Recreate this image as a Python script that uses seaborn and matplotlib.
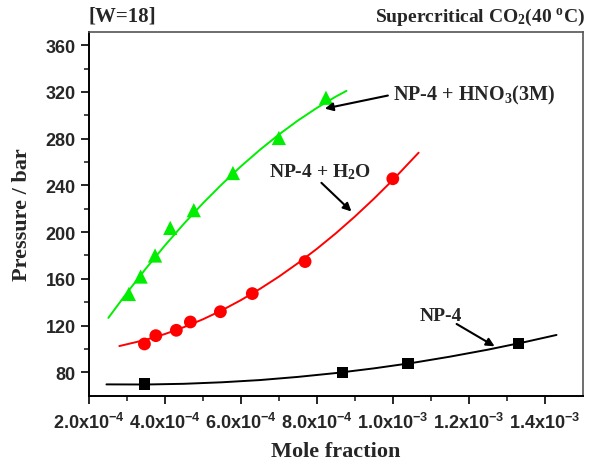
import numpy as np
import pandas as pd
import matplotlib
matplotlib.use("Agg")
import matplotlib.pyplot as plt
import seaborn as sns

# measured points
np4_x = [3.46e-4, 8.68e-4, 1.04e-3, 1.332e-3]
np4_y = [70.0, 80.0, 87.8, 104.5]
h2o_x = [3.46e-4, 3.76e-4, 4.30e-4, 4.67e-4, 5.46e-4, 6.30e-4, 7.69e-4, 1.0e-3]
h2o_y = [104.3, 111.4, 116.0, 123.1, 131.9, 147.4, 174.8, 245.7]
hno3_x = [3.05e-4, 3.36e-4, 3.74e-4, 4.14e-4, 4.76e-4, 5.79e-4, 7.0e-4, 8.24e-4]
hno3_y = [147.1, 162.0, 180.0, 203.6, 218.8, 250.6, 280.6, 315.0]

# fitted curves
np4_fit_x = [2.46e-4, 3.5e-4, 4.5e-4, 5.5e-4, 6.5e-4, 7.5e-4, 8.5e-4, 9.5e-4,
             1.05e-3, 1.15e-3, 1.25e-3, 1.35e-3, 1.431e-3]
np4_fit_y = [69.7, 69.6, 70.2, 71.5, 73.4, 76.1, 79.4, 83.4, 88.0, 93.4, 99.4, 106.1, 112.0]
h2o_fit_x = [2.8e-4, 3.5e-4, 4.0e-4, 4.5e-4, 5.0e-4, 5.5e-4, 6.0e-4, 6.5e-4, 7.0e-4,
             7.5e-4, 8.0e-4, 8.5e-4, 9.0e-4, 9.5e-4, 1.0e-3, 1.068e-3]
h2o_fit_y = [102.5, 107.9, 112.8, 118.7, 125.4, 133.1, 141.8, 151.4, 161.9,
             173.4, 185.7, 199.0, 213.3, 228.5, 244.6, 268.0]
hno3_fit_x = [2.51e-4, 3.0e-4, 3.5e-4, 4.0e-4, 4.5e-4, 5.0e-4, 5.5e-4, 6.0e-4,
              6.5e-4, 7.0e-4, 7.5e-4, 8.0e-4, 8.5e-4, 8.78e-4]
hno3_fit_y = [126.6, 148.1, 168.9, 188.6, 207.2, 224.7, 241.0, 256.3,
              270.4, 283.5, 295.5, 306.3, 316.0, 320.9]

x_ticks = [2e-4, 4e-4, 6e-4, 8e-4, 1.0e-3, 1.2e-3, 1.4e-3]
x_tick_labels = ["2.0x10$^{-4}$", "4.0x10$^{-4}$", "6.0x10$^{-4}$", "8.0x10$^{-4}$",
                 "1.0x10$^{-3}$", "1.2x10$^{-3}$", "1.4x10$^{-3}$"]
y_ticks = [80, 120, 160, 200, 240, 280, 320, 360]

sns.set_style("ticks")
plt.rcParams["font.family"] = ["Liberation Serif", "DejaVu Serif"]
plt.rcParams["font.weight"] = "bold"
plt.rcParams["mathtext.default"] = "regular"

fig = plt.figure(figsize=(5.92, 4.64), dpi=100)
ax = fig.add_axes([0.1503, 0.145, 0.834, 0.7832])

sns.lineplot(x=np4_fit_x, y=np4_fit_y, color="black", lw=1.4, sort=False, estimator=None, ax=ax)
sns.lineplot(x=h2o_fit_x, y=h2o_fit_y, color="#ff0000", lw=1.4, sort=False, estimator=None, ax=ax)
sns.lineplot(x=hno3_fit_x, y=hno3_fit_y, color="#00ee00", lw=1.4, sort=False, estimator=None, ax=ax)

sns.scatterplot(x=np4_x, y=np4_y, marker="s", s=64, color="black", edgecolor="none", ax=ax, zorder=3)
sns.scatterplot(x=h2o_x, y=h2o_y, marker="o", s=85, color="#ff0000", edgecolor="none", ax=ax, zorder=3)
sns.scatterplot(x=hno3_x, y=hno3_y, marker="^", s=105, color="#00ee00", edgecolor="none", ax=ax, zorder=3)

ax.set_xlim(2e-4, 1.5e-3)
ax.set_ylim(60, 371)
ax.set_xticks(x_ticks)
ax.set_xticklabels(x_tick_labels)
ax.set_xticks(np.arange(3e-4, 1.5e-3, 2e-4), minor=True)
ax.set_yticks(y_ticks)
ax.set_yticks([100, 140, 180, 220, 260, 300, 340], minor=True)
ax.tick_params(axis="both", which="major", direction="out", length=6, width=1.4,
               top=False, right=False)
ax.tick_params(axis="x", which="major", pad=6)
ax.tick_params(axis="both", which="minor", direction="out", length=3.5, width=1.2,
               top=False, right=False)
for lab in ax.get_xticklabels() + ax.get_yticklabels():
    lab.set_family(["Liberation Sans", "DejaVu Sans"])
    lab.set_fontweight("bold")
    lab.set_fontsize(13)
for side in ["left", "bottom"]:
    ax.spines[side].set_linewidth(1.4)
    ax.spines[side].set_color("black")
for side in ["top", "right"]:
    ax.spines[side].set_visible(True)
    ax.spines[side].set_linewidth(1.2)
    ax.spines[side].set_color("#555555")

ax.set_xlabel("Mole fraction", fontsize=16, fontweight="bold", labelpad=6)
ax.set_ylabel("Pressure / bar", fontsize=16, fontweight="bold", labelpad=10)

arrow = dict(arrowstyle="-|>", color="black", lw=1.5, mutation_scale=12, shrinkA=0, shrinkB=0)
ax.text(1.0e-3, 317.7, "NP-4 + HNO$_3$(3M)", fontsize=14.5, fontweight="bold", ha="left", va="center")
ax.annotate("", xy=(8.21e-4, 305.7), xytext=(9.87e-4, 316.9), arrowprops=arrow)
ax.text(8.08e-4, 252.5, "NP-4 + H$_2$O", fontsize=14, fontweight="bold", ha="center", va="center")
ax.annotate("", xy=(8.91e-4, 217.7), xytext=(8.12e-4, 242.2), arrowprops=arrow)
ax.text(11.26e-4, 128.3, "NP-4", fontsize=14, fontweight="bold", ha="center", va="center")
ax.annotate("", xy=(12.68e-4, 102.3), xytext=(11.68e-4, 121.4), arrowprops=arrow)

fig.text(89 / 592, 1 - 17 / 464, "[W=18]", fontsize=15, fontweight="bold", ha="left", va="center")
fig.text(585 / 592, 1 - 17 / 464, "Supercritical CO$_2$(40 $^{o}$C)", fontsize=14,
         fontweight="bold", ha="right", va="center")

fig.savefig("out.png", dpi=100)
